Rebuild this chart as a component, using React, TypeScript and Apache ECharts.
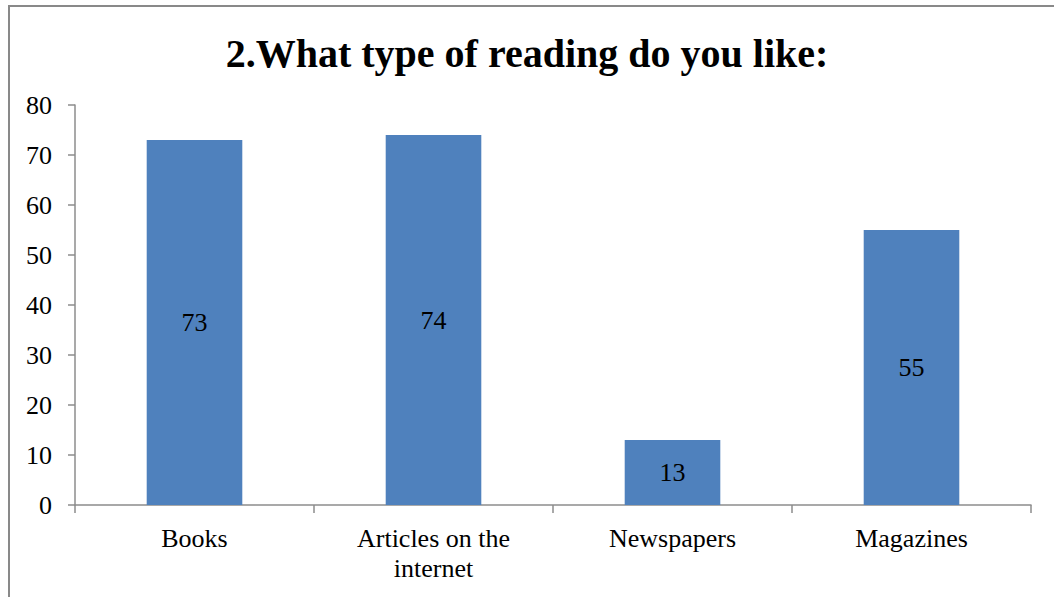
import React, { useEffect, useRef } from "react";
import * as echarts from "echarts";

const categories = ["Books", "Articles on the\ninternet", "Newspapers", "Magazines"];
const values = [73, 74, 13, 55];
const titleText = "2.What type of reading do you like:";
const yMin = 0;
const yMax = 80;
const yInterval = 10;

export default function App() {
  const ref = useRef<HTMLDivElement>(null);
  useEffect(() => {
    document.body.style.margin = "0";
    const chart = echarts.init(ref.current!, null, { renderer: "svg" });
    const font = "'Liberation Serif', 'Times New Roman', serif";
    chart.setOption({
      animation: false,
      backgroundColor: "#ffffff",
      title: {
        text: titleText,
        left: "center",
        top: 28,
        textStyle: { fontFamily: font, fontWeight: "bold", fontSize: 40, color: "#000" },
      },
      graphic: [
        {
          type: "rect",
          shape: { x: 9, y: 6, width: 1200, height: 800 },
          style: { fill: "none", stroke: "#898989", lineWidth: 2 },
          silent: true,
        },
      ],
      grid: { left: 75, right: 23, top: 105, bottom: 92, containLabel: false },
      xAxis: {
        type: "category",
        data: categories,
        axisLine: { lineStyle: { color: "#8c8c8c", width: 1.5 } },
        axisTick: { show: true, length: 8, lineStyle: { color: "#8c8c8c", width: 1.5 } },
        axisLabel: { fontFamily: font, fontSize: 26, color: "#000", margin: 18, lineHeight: 30, interval: 0 },
      },
      yAxis: {
        type: "value",
        min: yMin,
        max: yMax,
        interval: yInterval,
        splitLine: { show: false },
        axisLine: { show: true, lineStyle: { color: "#8c8c8c", width: 1.5 } },
        axisTick: { show: true, length: 7, lineStyle: { color: "#8c8c8c", width: 1.5 } },
        axisLabel: { fontFamily: font, fontSize: 26, color: "#000", margin: 23 },
      },
      series: [
        {
          type: "bar",
          data: values,
          barWidth: "40%",
          itemStyle: { color: "#4f81bd" },
          label: {
            show: true,
            position: "inside",
            fontFamily: font,
            fontSize: 26,
            color: "#000",
          },
        },
      ],
    });
    return () => chart.dispose();
  }, []);
  return <div ref={ref} style={{ width: 1054, height: 597, position: "absolute", left: 0, top: 0 }} />;
}
